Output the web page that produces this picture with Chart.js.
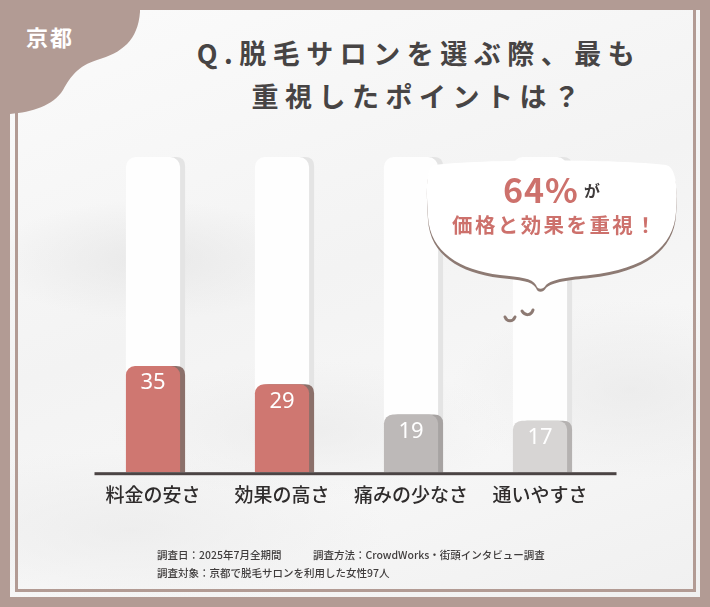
<!DOCTYPE html>
<html lang="ja">
<head>
<meta charset="utf-8">
<script src="https://cdn.jsdelivr.net/npm/chart.js@4"></script>
<style>
  html, body { margin: 0; padding: 0; }
  body {
    width: 710px; height: 607px; position: relative; overflow: hidden;
    background: #b29b94;
    font-family: "Noto Sans CJK JP", "Noto Sans", sans-serif;
  }
  #panel {
    position: absolute; left: 10px; top: 10px; width: 690px; height: 587px;
    background:
      radial-gradient(ellipse 160px 60px at 140px 250px, rgba(228,228,228,0.7), rgba(255,255,255,0)),
      radial-gradient(ellipse 200px 70px at 300px 420px, rgba(232,232,232,0.6), rgba(255,255,255,0)),
      radial-gradient(ellipse 180px 90px at 620px 380px, rgba(230,230,230,0.6), rgba(255,255,255,0)),
      radial-gradient(ellipse 260px 80px at 120px 520px, rgba(234,234,234,0.7), rgba(255,255,255,0)),
      linear-gradient(160deg, #fbfbfb 0%, #f3f3f3 45%, #f7f7f7 70%, #f0f0f0 100%);
  }
  #inner {
    position: absolute; left: 5px; top: 0; right: 4px; bottom: 5px;
    border-left: 3px solid #b29b94; border-right: 3px solid #b29b94; border-bottom: 3px solid #b29b94;
  }
  #blob { position: absolute; left: 0; top: 0; }
  #area { position: absolute; left: 26px; top: 20px; color: #fff; font-size: 22px; font-weight: 700; letter-spacing: 2px; }
  #title {
    position: absolute; left: 0; width: 710px; top: 31px; text-align: center;
    padding-left: 128px; box-sizing: border-box;
    font-size: 27px; font-weight: 700; color: #474444; line-height: 43px; letter-spacing: 6.5px;
  }
  canvas#chart { position: absolute; left: 0; top: 0; }
  #bubble { position: absolute; left: 420px; top: 157px; filter: drop-shadow(0 3px 0 #8d7a73); }
  #drops { position: absolute; left: 495px; top: 297px; }
  .btext { position: absolute; color: #cd716c; font-weight: 700; white-space: nowrap; }
  #pct { left: 503px; top: 164px; font-size: 34px; letter-spacing: 1px; }
  #ga { left: 584px; top: 178px; font-size: 16px; color: #3e3a3a; }
  #msg { left: 452px; top: 209px; font-size: 20.5px; letter-spacing: 2.4px; }
  #foot {
    position: absolute; left: 157px; top: 546px; font-size: 10.5px; color: #3f3c3c;
    line-height: 18px; font-weight: 500; white-space: pre;
  }
</style>
</head>
<body>
<div id="panel"><div id="inner"></div></div>
<svg id="blob" width="160" height="130" viewBox="0 0 160 130">
  <path d="M0,0 L140,0 L140,12 C138,40 122,53 97,60 C78,66 71,76 63,90 C53,106 32,112 10,114 L0,114 Z" fill="#b29b94"/>
</svg>
<div id="area">京都</div>
<div id="title">Q.脱毛サロンを選ぶ際、最も<br>重視したポイントは？</div>
<canvas id="chart" width="710" height="607"></canvas>
<svg id="bubble" width="265" height="140" viewBox="0 0 265 140">
  <path d="M14,8 C60,2 200,2 246,8 C256,10 258,30 256,55 C254,90 225,112 170,118 C150,120 132,122 126,128 C124,132 118,134 116,128 C112,121 100,120 80,118 C40,113 10,95 8,60 C6,30 6,12 14,8 Z" fill="#ffffff"/>
</svg>
<svg id="drops" width="50" height="30" viewBox="0 0 50 30">
  <path d="M10,20 C12,25 18,25 20,20" stroke="#8d7a73" stroke-width="3" fill="none" stroke-linecap="round"/>
  <path d="M27,14 C30,19 36,19 38,13" stroke="#8d7a73" stroke-width="3" fill="none" stroke-linecap="round"/>
</svg>
<div class="btext" id="pct">64%</div>
<div class="btext" id="ga">が</div>
<div class="btext" id="msg">価格と効果を重視！</div>
<div id="foot">調査日：2025年7月全期間　　　調査方法：CrowdWorks・街頭インタビュー調査
調査対象：京都で脱毛サロンを利用した女性97人</div>

<script>
// Data (percent of respondents)
const categories = ['料金の安さ', '効果の高さ', '痛みの少なさ', '通いやすさ'];
const values = [35, 29, 19, 17];
const yMax = 104;
const trackValues = [yMax, yMax, yMax, yMax];

// Colours
const barColors = ['#cf7771', '#cf7771', '#bdb9b8', '#d7d5d4'];
const barShadows = ['#8b706a', '#8b706a', '#a7a3a2', '#b5b2b1'];
const trackColor = '#fefefe';
const trackShadow = '#e4e4e4';

function roundTopRect(ctx, x, y, w, h, r) {
  ctx.beginPath();
  ctx.moveTo(x, y + h);
  ctx.lineTo(x, y + r);
  ctx.quadraticCurveTo(x, y, x + r, y);
  ctx.lineTo(x + w - r, y);
  ctx.quadraticCurveTo(x + w, y, x + w, y + r);
  ctx.lineTo(x + w, y + h);
  ctx.closePath();
  ctx.fill();
}

// Right-hand solid shadow behind each bar
const barShadowPlugin = {
  id: 'barShadow',
  beforeDatasetDraw(chart, args) {
    const ds = chart.data.datasets[args.index];
    const ctx = chart.ctx;
    ctx.save();
    args.meta.data.forEach((el, i) => {
      const w = el.width;
      ctx.fillStyle = Array.isArray(ds.shadowColor) ? ds.shadowColor[i] : ds.shadowColor;
      roundTopRect(ctx, el.x - w / 2 + 5, el.y, w, el.base - el.y, 9);
    });
    ctx.restore();
  }
};

// Baseline and value labels
const decorPlugin = {
  id: 'decor',
  afterDatasetsDraw(chart) {
    const ctx = chart.ctx;
    const area = chart.chartArea;
    const y0 = chart.scales.y.getPixelForValue(0);
    ctx.save();
    ctx.fillStyle = '#4b4444';
    ctx.fillRect(area.left + 6, y0, area.right - area.left + 6, 3);
    ctx.fillStyle = '#ffffff';
    ctx.font = '400 22px "Noto Sans", "Noto Sans CJK JP", sans-serif';
    ctx.textAlign = 'center';
    ctx.textBaseline = 'middle';
    chart.getDatasetMeta(0).data.forEach((el, i) => {
      ctx.fillText(String(values[i]), el.x, el.y + 17);
    });
    ctx.restore();
  }
};

new Chart(document.getElementById('chart'), {
  type: 'bar',
  data: {
    labels: categories,
    datasets: [
      {
        data: values,
        backgroundColor: barColors,
        shadowColor: barShadows,
        grouped: false,
        borderRadius: { topLeft: 9, topRight: 9 },
        borderSkipped: 'bottom',
        barPercentage: 0.42,
        categoryPercentage: 1
      },
      {
        data: trackValues,
        backgroundColor: trackColor,
        shadowColor: trackShadow,
        grouped: false,
        borderRadius: { topLeft: 10, topRight: 10 },
        borderSkipped: 'bottom',
        barPercentage: 0.42,
        categoryPercentage: 1
      }
    ]
  },
  options: {
    responsive: false,
    animation: false,
    events: [],
    layout: { padding: { left: 88.5, right: 105.5, top: 157, bottom: 90 } },
    plugins: { legend: { display: false }, tooltip: { enabled: false } },
    scales: {
      x: {
        grid: { display: false, drawTicks: false },
        border: { display: false },
        ticks: {
          color: '#2f2c2c',
          padding: 11,
          font: { family: '"Noto Sans CJK JP", sans-serif', size: 19, weight: '500' }
        }
      },
      y: { display: false, min: 0, max: yMax }
    }
  },
  plugins: [barShadowPlugin, decorPlugin]
});
</script>
</body>
</html>
